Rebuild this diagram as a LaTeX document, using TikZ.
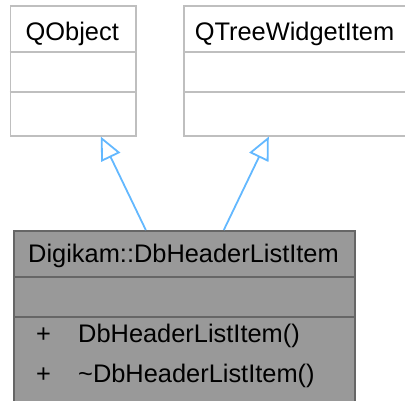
\documentclass[tikz,border=0pt]{standalone}
\usepackage{fontspec}
\setmainfont{Liberation Sans}
\usetikzlibrary{arrows.meta}
\definecolor{edgeblue}{HTML}{63B8FF}
\definecolor{lightborder}{HTML}{BFBFBF}
\definecolor{darkborder}{HTML}{666666}
\definecolor{darkfill}{HTML}{999999}
\begin{document}
\begin{tikzpicture}[x=1pt,y=-1pt,
  topbox/.style={draw=lightborder, fill=white, line width=1.6pt, rectangle, inner sep=0pt, anchor=north west},
  topline/.style={draw=lightborder, line width=1.6pt},
  mainbox/.style={draw=darkborder, fill=darkfill, line width=1.6pt, rectangle, inner sep=0pt, anchor=north west},
  mainline/.style={draw=darkborder, line width=1.6pt},
  lbl/.style={inner sep=0pt, font=\fontsize{25.4}{30}\selectfont, text=black},
  inh/.style={draw=edgeblue, line width=1.8pt, -{Triangle[open, length=23pt, width=21pt, line width=1.8pt]}}
]
\useasboundingbox (0,0) rectangle (405,400);
% parents
\node[topbox, minimum width=125.5pt, minimum height=130pt] (qobj) at (9.5,5) {};
\draw[topline] (qobj.west |- 0,52) -- (qobj.east |- 0,52);
\draw[topline] (qobj.west |- 0,92) -- (qobj.east |- 0,92);
\node[lbl, anchor=base] (qobjt) at (72.25,40) {QObject};

\node[topbox, minimum width=230pt, minimum height=130pt] (qtw) at (183,5) {};
\draw[topline] (qtw.west |- 0,52) -- (qtw.east |- 0,52);
\draw[topline] (qtw.west |- 0,92) -- (qtw.east |- 0,92);
\node[lbl, anchor=base] (qtwt) at (294.5,40) {QTreeWidgetItem};

% child
\node[mainbox, minimum width=341pt, minimum height=185pt] (item) at (13,230) {};
\draw[mainline] (item.west |- 0,277) -- (item.east |- 0,277);
\draw[mainline] (item.west |- 0,317) -- (item.east |- 0,317);
\node[lbl, anchor=base] (itemt) at (183.5,262) {Digikam::DbHeaderListItem};
\node[lbl, anchor=base west] (p1) at (36,342) {+};
\node[lbl, anchor=base west] (m1) at (78,342) {DbHeaderListItem()};
\node[lbl, anchor=base west] (p2) at (36,382) {+};
\node[lbl, anchor=base west] (m2) at (78,382) {\char`\~DbHeaderListItem()};

% inheritance
\draw[inh] ([xshift=-38.5pt]item.north) -- ([xshift=27.75pt]qobj.south);
\draw[inh] ([xshift=39.5pt]item.north) -- ([xshift=-30pt]qtw.south);
\end{tikzpicture}
\end{document}
